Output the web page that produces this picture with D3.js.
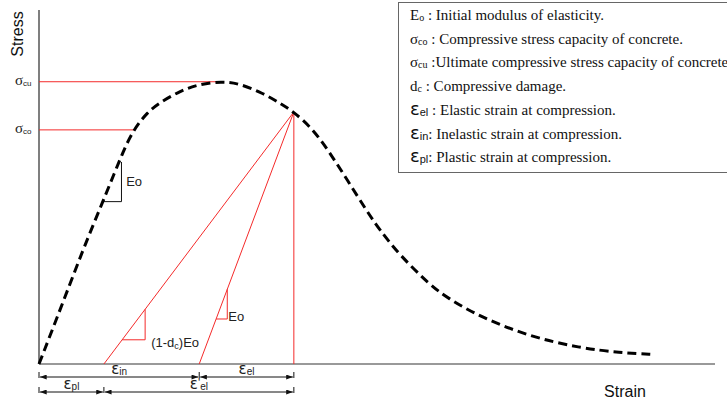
<!DOCTYPE html>
<html>
<head>
<meta charset="utf-8">
<script src="https://cdn.jsdelivr.net/npm/d3@7"></script>
<style>
  body { margin: 0; background: #fff; }
  svg { display: block; font-family: Arial, "Liberation Sans", sans-serif; }
</style>
</head>
<body>
<div id="chart"></div>
<script>
// stress-strain curve, strain in 1e-3, stress in MPa
const curveStrain = [0, 0.31, 0.65, 0.95, 1.12, 1.24, 1.38, 1.60, 1.83, 2.09, 2.34, 2.71, 2.97, 3.31, 3.57, 3.77,
  4.05, 4.30, 4.56, 4.85, 5.04, 5.34, 5.78, 6.04, 6.52, 7.26, 8.00, 8.59, 9.11];
const curveStress = [0, 5.7, 12.1, 17.3, 20.3, 22.4, 24.6, 26.7, 27.9, 28.9, 29.6, 29.95, 29.7, 28.7, 27.6, 26.7,
  24.9, 22.4, 19.5, 16.2, 14.2, 11.5, 8.4, 7.0, 5.0, 2.9, 1.7, 1.2, 1.0];

const levelNames = ["cu", "co"];
const levelValues = [29.9, 24.8];

const unloadStrain = 3.77;
const unloadStress = 26.7;
const plasticStrain = 0.96;   // foot of the damaged unloading line
const elasticFoot = 2.37;     // foot of the undamaged (Eo) unloading line

const legendSymbols = ["E", "σ", "σ", "d", "ε", "ε", "ε"];
const legendSubs = ["o", "co", "cu", "c", "el", "in", "pl"];
const legendTexts = [
  " : Initial modulus of elasticity.",
  " : Compressive stress capacity of concrete.",
  " :Ultimate compressive stress capacity of concrete",
  " : Compressive damage.",
  "  : Elastic strain at compression.",
  ": Inelastic strain at compression.",
  ": Plastic strain at compression."
];

const width = 727, height = 403;
const red = "#f42a2a";

const x = d3.scaleLinear().domain([0, 10]).range([39, 715]);
const y = d3.scaleLinear().domain([0, 37.5]).range([364, 10]);

const svg = d3.select("#chart").append("svg")
  .attr("width", width)
  .attr("height", height);

const defs = svg.append("defs");
defs.append("marker")
  .attr("id", "arr")
  .attr("viewBox", "0 0 8 6")
  .attr("refX", 8).attr("refY", 3)
  .attr("markerWidth", 8).attr("markerHeight", 5)
  .attr("markerUnits", "userSpaceOnUse")
  .attr("orient", "auto-start-reverse")
  .append("path")
  .attr("d", "M0,0L8,3L0,6Z")
  .attr("fill", "#111");

// axes (plain lines, no ticks)
svg.append("line")
  .attr("x1", x(0)).attr("x2", x(0))
  .attr("y1", y(0)).attr("y2", y(37.5))
  .attr("stroke", "#555").attr("stroke-width", 1.5);
svg.append("line")
  .attr("x1", x(0)).attr("x2", x(10))
  .attr("y1", y(0)).attr("y2", y(0))
  .attr("stroke", "#999").attr("stroke-width", 2);

// where the rising branch reaches a stress level
const rising = curveStrain.map((s, i) => [s, curveStress[i]]).filter((d) => d[0] <= 2.71);
const strainAt = (level) => {
  for (let i = 1; i < rising.length; i++) {
    if (rising[i][1] >= level) {
      const [x0, y0] = rising[i - 1], [x1, y1] = rising[i];
      return x0 + (level - y0) / (y1 - y0) * (x1 - x0);
    }
  }
  return rising[rising.length - 1][0];
};

// stress levels
levelValues.forEach((v, i) => {
  svg.append("line")
    .attr("x1", x(0)).attr("x2", x(strainAt(v)))
    .attr("y1", y(v)).attr("y2", y(v))
    .attr("stroke", red).attr("stroke-width", 1);
  const t = svg.append("text")
    .attr("x", 15).attr("y", y(v) + 3)
    .attr("font-family", "'Liberation Serif', serif")
    .attr("font-size", 15)
    .attr("fill", "#222");
  t.append("tspan").text("σ");
  t.append("tspan").attr("font-size", 8).attr("font-family", "Arial, sans-serif").attr("dy", 1).text(levelNames[i]);
});

// unloading lines
const foot = [plasticStrain, elasticFoot, unloadStrain];
svg.append("g").selectAll("line")
  .data(foot)
  .join("line")
  .attr("x1", (d) => x(d)).attr("y1", y(0))
  .attr("x2", x(unloadStrain)).attr("y2", y(unloadStress))
  .attr("stroke", red).attr("stroke-width", 1);

// slope triangles
const slopeOf = (s0) => unloadStress / (unloadStrain - s0);
const tri = (sx, sy, run, rise, color) => {
  svg.append("path")
    .attr("d", `M${x(sx)},${y(sy)}H${x(sx + run)}V${y(sy + rise)}`)
    .attr("fill", "none")
    .attr("stroke", color)
    .attr("stroke-width", 1);
};
tri(0.95, 17.2, 0.27, 4.2, "#111");
const dS = 1.23;
tri(dS, slopeOf(plasticStrain) * (dS - plasticStrain), 0.34, slopeOf(plasticStrain) * 0.34, red);
const eS = 2.62;
tri(eS, slopeOf(elasticFoot) * (eS - elasticFoot), 0.165, slopeOf(elasticFoot) * 0.165, red);

const label = (px, py, parts) => {
  const t = svg.append("text")
    .attr("x", px).attr("y", py)
    .attr("font-size", 13)
    .attr("fill", "#222");
  parts.forEach(([txt, dy, size]) => {
    t.append("tspan").attr("dy", dy || 0).attr("font-size", size || 13).text(txt);
  });
};
label(x(1.29), y(18.9), [["Eo"]]);
label(x(2.80), y(4.6), [["Eo"]]);
label(x(1.66), y(1.8), [["(1-d"], ["c", 2, 9], [")Eo", -2]]);

// softening curve
const line = d3.line()
  .x((d, i) => x(curveStrain[i]))
  .y((d) => y(d))
  .curve(d3.curveBasis);
svg.append("path")
  .attr("d", line(curveStress))
  .attr("fill", "none")
  .attr("stroke", "#000")
  .attr("stroke-width", 3)
  .attr("stroke-dasharray", "9,5");

// strain dimensions
const rows = [
  {yy: 377, parts: [[0, elasticFoot, "in", ""], [elasticFoot, unloadStrain, "el", ""]]},
  {yy: 392, parts: [[0, plasticStrain, "pl", ""], [plasticStrain, unloadStrain, "el", "'"]]}
];
rows.forEach((r) => {
  const g = svg.append("g");
  const edges = [0, ...r.parts.map((p) => p[1])];
  g.selectAll("line.tick")
    .data(edges)
    .join("line")
    .attr("class", "tick")
    .attr("x1", (d) => x(d)).attr("x2", (d) => x(d))
    .attr("y1", r.yy - 5).attr("y2", r.yy + 1)
    .attr("stroke", "#111").attr("stroke-width", 1);
  r.parts.forEach(([a, b, sub, prime]) => {
    g.append("line")
      .attr("x1", x(a) + 1).attr("x2", x(b) - 1)
      .attr("y1", r.yy).attr("y2", r.yy)
      .attr("stroke", "#111").attr("stroke-width", 1)
      .attr("marker-start", "url(#arr)")
      .attr("marker-end", "url(#arr)");
    const t = g.append("text")
      .attr("x", (x(a) + x(b)) / 2).attr("y", r.yy - 3)
      .attr("text-anchor", "middle")
      .attr("fill", "#222");
    t.append("tspan").attr("font-family", "'DejaVu Sans', sans-serif").attr("font-size", 15).text("ε");
    if (prime) { t.append("tspan").attr("font-size", 12).attr("dy", -2).text(prime); }
    t.append("tspan").attr("font-size", 10).attr("dy", prime ? 3 : 1).text(sub);
  });
});

// axis titles
svg.append("text")
  .attr("transform", "translate(23,34) rotate(-90)")
  .attr("text-anchor", "middle")
  .attr("font-size", 16)
  .attr("fill", "#111")
  .text("Stress");
svg.append("text")
  .attr("x", 625).attr("y", 397)
  .attr("text-anchor", "middle")
  .attr("font-size", 16)
  .attr("fill", "#111")
  .text("Strain");

// legend box
svg.append("rect")
  .attr("x", 398.5).attr("y", 2.5)
  .attr("width", 340).attr("height", 170)
  .attr("fill", "#fff")
  .attr("stroke", "#666").attr("stroke-width", 1);

const lg = svg.append("g")
  .attr("font-family", "'Liberation Serif', 'Times New Roman', serif")
  .attr("font-size", 15)
  .attr("fill", "#111");
legendSymbols.forEach((sym, i) => {
  const t = lg.append("text")
    .attr("x", 410)
    .attr("y", 20 + i * 23.7);
  const isEps = sym === "ε";
  t.append("tspan")
    .attr("font-family", isEps ? "'DejaVu Sans', sans-serif" : null)
    .attr("font-size", isEps ? 18 : 15)
    .text(sym);
  t.append("tspan")
    .attr("font-family", isEps ? "Arial, sans-serif" : null)
    .attr("font-size", isEps ? 11 : 10)
    .attr("dy", 1)
    .text(legendSubs[i]);
  t.append("tspan").attr("dy", -1).text(legendTexts[i]);
});
</script>
</body>
</html>
